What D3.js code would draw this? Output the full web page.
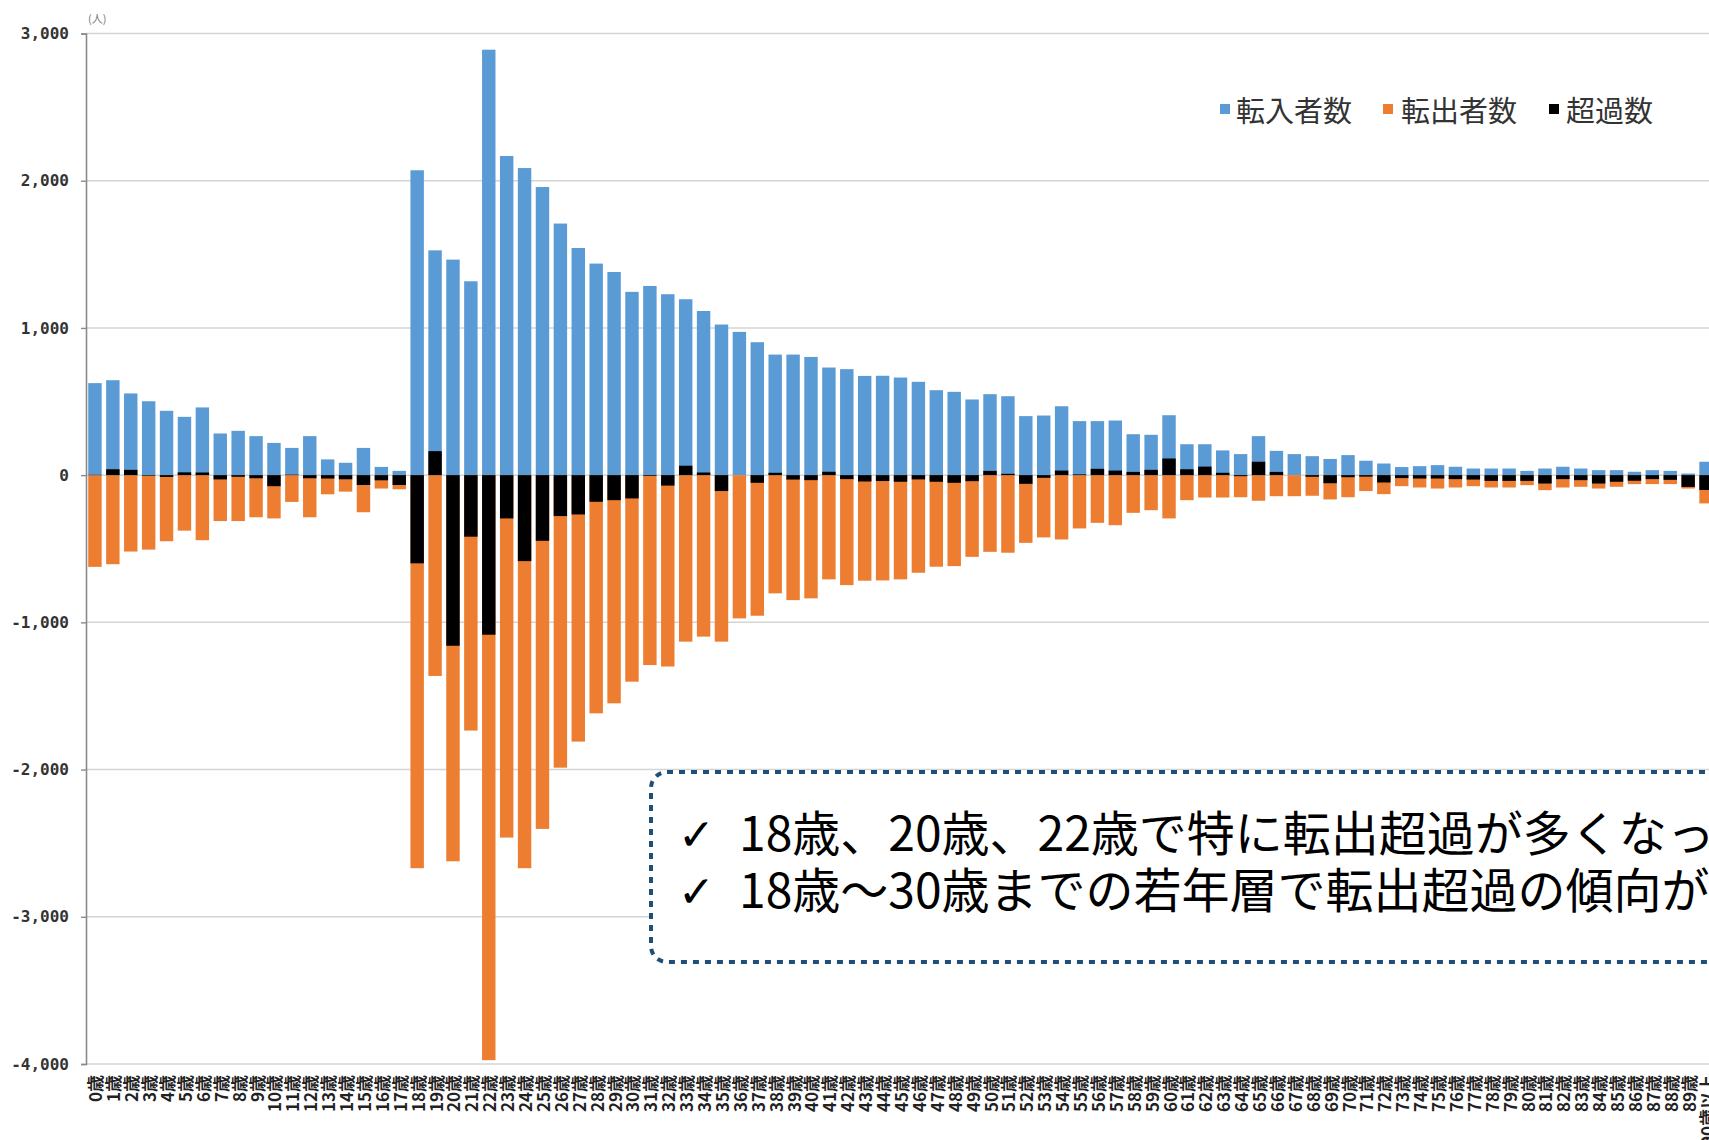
<!DOCTYPE html>
<html>
<head>
<meta charset="utf-8">
<script src="https://cdn.jsdelivr.net/npm/d3@7"></script>
<style>
  body { margin: 0; background: #fff; }
  svg { display: block; }
</style>
</head>
<body>
<svg id="chart" width="1709" height="1140"></svg>
<script>
// 年齢別 転入者数・転出者数・超過数（人）
const ageLabels = [
  "0歳","1歳","2歳","3歳","4歳","5歳","6歳","7歳","8歳","9歳",
  "10歳","11歳","12歳","13歳","14歳","15歳","16歳","17歳","18歳","19歳",
  "20歳","21歳","22歳","23歳","24歳","25歳","26歳","27歳","28歳","29歳",
  "30歳","31歳","32歳","33歳","34歳","35歳","36歳","37歳","38歳","39歳",
  "40歳","41歳","42歳","43歳","44歳","45歳","46歳","47歳","48歳","49歳",
  "50歳","51歳","52歳","53歳","54歳","55歳","56歳","57歳","58歳","59歳",
  "60歳","61歳","62歳","63歳","64歳","65歳","66歳","67歳","68歳","69歳",
  "70歳","71歳","72歳","73歳","74歳","75歳","76歳","77歳","78歳","79歳",
  "80歳","81歳","82歳","83歳","84歳","85歳","86歳","87歳","88歳","89歳",
  "90歳以上"
];

// 転入者数
const inflow = [
  625, 645, 555, 502, 437, 396, 460, 283, 301, 265,
  219, 185, 265, 107, 84, 185, 56, 29, 2071, 1527,
  1464, 1317, 2890, 2168, 2086, 1957, 1709, 1543, 1437, 1380,
  1245, 1285, 1229, 1195, 1115, 1023, 973, 903, 819, 819,
  803, 731, 720, 674, 675, 663, 634, 577, 566, 514,
  550, 536, 401, 405, 468, 367, 367, 371, 278, 274,
  407, 210, 210, 168, 143, 265, 165, 143, 129, 110,
  136, 98, 79, 55, 61, 68, 57, 45, 45, 45,
  29, 45, 57, 45, 34, 34, 23, 34, 29, 11,
  91
];

// 転出者数（負の値で表示）
const outflow = [
  -623, -605, -519, -506, -449, -377, -442, -312, -312, -286,
  -294, -182, -286, -130, -112, -252, -91, -96, -2670, -1364,
  -2623, -1735, -3974, -2462, -2670, -2403, -1987, -1810, -1618, -1550,
  -1403, -1290, -1300, -1131, -1097, -1131, -973, -955, -803, -849,
  -837, -708, -747, -717, -715, -708, -663, -622, -618, -555,
  -521, -527, -460, -423, -437, -362, -324, -340, -256, -238,
  -294, -170, -152, -152, -150, -174, -143, -143, -140, -165,
  -150, -108, -129, -75, -84, -91, -84, -75, -84, -84,
  -68, -102, -84, -79, -91, -79, -61, -61, -61, -91,
  -192
];

// 超過数（転入超過は正、転出超過は負）
const netMigration = [
  2, 40, 36, -4, -12, 19, 18, -29, -11, -21,
  -75, 3, -21, -23, -28, -67, -35, -67, -599, 163,
  -1159, -418, -1084, -294, -584, -446, -278, -267, -181, -170,
  -158, -5, -71, 64, 18, -108, 0, -52, 16, -30,
  -34, 23, -27, -43, -40, -45, -29, -45, -52, -41,
  29, 9, -59, -18, 31, 5, 43, 31, 22, 36,
  113, 40, 58, 16, -7, 91, 22, 0, -11, -55,
  -14, -10, -50, -20, -23, -23, -27, -30, -39, -39,
  -39, -57, -27, -34, -57, -45, -38, -27, -32, -80,
  -101
];

const yTicks = [-4000, -3000, -2000, -1000, 0, 1000, 2000, 3000];
const seriesNames = ["転入者数", "転出者数", "超過数"];
const seriesColors = ["#5b9bd5", "#ed7d31", "#000000"];
const unitLabel = "(人)";
const notes = [
  "18歳、20歳、22歳で特に転出超過が多くなっている",
  "18歳～30歳までの若年層で転出超過の傾向がある"
];

const W = 1709, H = 1140;
const svg = d3.select("#chart");
svg.append("rect").attr("width", W).attr("height", H).attr("fill", "#ffffff");

const plotLeft = 86;
const y = d3.scaleLinear().domain([-4000, 3000]).range([1064, 33.5]);
const x = d3.scaleBand()
  .domain(ageLabels)
  .range([plotLeft, 1715])
  .paddingInner(0.25)
  .paddingOuter(0.125);

// horizontal gridlines
svg.append("g")
  .selectAll("line")
  .data(yTicks)
  .join("line")
  .attr("x1", plotLeft)
  .attr("x2", W)
  .attr("y1", d => y(d))
  .attr("y2", d => y(d))
  .attr("stroke", "#d4d4d4")
  .attr("stroke-width", 1.5);

const rows = ageLabels.map((a, i) => ({
  age: a, inn: inflow[i], out: outflow[i], net: netMigration[i]
}));

const bars = svg.append("g");
// 転入者数
bars.append("g").selectAll("rect")
  .data(rows).join("rect")
  .attr("x", d => x(d.age))
  .attr("width", x.bandwidth())
  .attr("y", d => y(d.inn))
  .attr("height", d => y(0) - y(d.inn))
  .attr("fill", seriesColors[0]);
// 転出者数
bars.append("g").selectAll("rect")
  .data(rows).join("rect")
  .attr("x", d => x(d.age))
  .attr("width", x.bandwidth())
  .attr("y", y(0))
  .attr("height", d => y(d.out) - y(0))
  .attr("fill", seriesColors[1]);
// 超過数
bars.append("g").selectAll("rect")
  .data(rows).join("rect")
  .attr("x", d => x(d.age))
  .attr("width", x.bandwidth())
  .attr("y", d => y(Math.max(0, d.net)))
  .attr("height", d => Math.abs(y(d.net) - y(0)))
  .attr("fill", seriesColors[2]);

// vertical axis
const fmt = d3.format(",");
const yAxis = svg.append("g")
  .attr("transform", `translate(${plotLeft},0)`)
  .call(d3.axisLeft(y).tickValues(yTicks).tickSize(5).tickPadding(12)
    .tickFormat(d => fmt(d).replace("\u2212", "-")));
yAxis.select(".domain").attr("stroke", "#8a8a8a").attr("stroke-width", 1.6);
yAxis.selectAll(".tick line").attr("stroke", "#8a8a8a").attr("stroke-width", 1.4);
yAxis.selectAll(".tick text")
  .attr("font-family", "'DejaVu Sans Mono', monospace")
  .attr("font-weight", "bold")
  .attr("font-size", 16)
  .attr("fill", "#333");

svg.append("text")
  .attr("x", 88).attr("y", 23)
  .attr("font-family", "'Noto Sans CJK JP', sans-serif")
  .attr("font-size", 11)
  .attr("fill", "#777")
  .text(unitLabel);

// category labels, rotated
svg.append("g").selectAll("text")
  .data(ageLabels).join("text")
  .attr("transform", d => `translate(${x(d) + x.bandwidth() / 2},1075) rotate(-90)`)
  .attr("text-anchor", "end")
  .attr("dominant-baseline", "central")
  .attr("font-family", "'Noto Sans CJK JP', sans-serif")
  .attr("font-weight", "bold")
  .attr("font-size", 17)
  .attr("fill", "#222")
  .text(d => d);

// legend
const legendSquares = [1220, 1383, 1549];
const legendTexts = [1236, 1401, 1566];
const legend = svg.append("g");
legend.selectAll("rect")
  .data(seriesNames).join("rect")
  .attr("x", (d, i) => legendSquares[i])
  .attr("y", 104)
  .attr("width", 10).attr("height", 10)
  .attr("fill", (d, i) => seriesColors[i]);
legend.selectAll("text")
  .data(seriesNames).join("text")
  .attr("x", (d, i) => legendTexts[i])
  .attr("y", 109)
  .attr("dominant-baseline", "central")
  .attr("font-family", "'Noto Sans CJK JP', sans-serif")
  .attr("font-size", 29)
  .attr("fill", "#333")
  .text(d => d);

// annotation box
const note = svg.append("g");
note.append("rect")
  .attr("x", 651).attr("y", 772)
  .attr("width", 1300).attr("height", 190)
  .attr("rx", 16)
  .attr("fill", "#ffffff")
  .attr("stroke", "#1f4e79")
  .attr("stroke-width", 4)
  .attr("stroke-dasharray", "6 6");
const noteBase = [851, 908];
note.selectAll("text.check")
  .data(notes).join("text")
  .attr("class", "check")
  .attr("x", 678)
  .attr("y", (d, i) => noteBase[i] - 1)
  .attr("font-family", "'DejaVu Sans', sans-serif")
  .attr("font-size", 44)
  .attr("fill", "#000")
  .text("\u2713");
note.selectAll("text.line")
  .data(notes).join("text")
  .attr("class", "line")
  .attr("x", 739)
  .attr("y", (d, i) => noteBase[i])
  .attr("font-family", "'Noto Sans CJK JP', sans-serif")
  .attr("font-size", 48)
  .attr("fill", "#000")
  .text(d => d);
</script>
</body>
</html>
